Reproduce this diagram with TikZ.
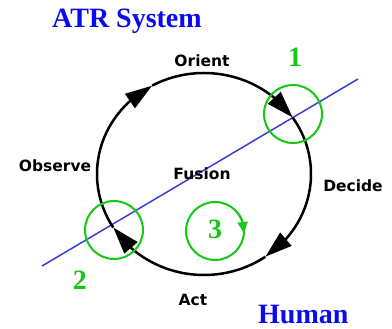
\documentclass[tikz,border=0pt]{standalone}
\usepackage{fontspec}
\setmainfont{Liberation Serif}
\newfontfamily\lblfont{DejaVu Sans}
\usetikzlibrary{arrows.meta,bending}
\definecolor{gr}{RGB}{20,200,20}
\definecolor{bl}{RGB}{60,60,215}
\definecolor{tb}{RGB}{10,10,240}
\tikzset{
  loop/.style={line width=2.5pt,black},
  bigtip/.style={-{Triangle[length=27pt,width=17pt]}},
  ring/.style={line width=2pt,gr},
  lbl/.style={font=\lblfont\bfseries\fontsize{15.5}{18}\selectfont,inner sep=0pt},
  num/.style={font=\bfseries\fontsize{28}{30}\selectfont,text=gr,inner sep=0pt},
  title/.style={font=\bfseries\fontsize{28}{30}\selectfont,text=tb,inner sep=0pt}
}
\begin{document}
\begin{tikzpicture}[x=1pt,y=1pt]
\useasboundingbox (0,0) rectangle (392,-329);
\coordinate (c) at (204,-174);
% blue line
\coordinate (b1) at (42,-266);
\coordinate (b2) at (358,-79);
\draw[bl,line width=1.5pt] (b1) -- (b2);
% loop arcs
\draw[loop,bigtip] (c) ++(212:107pt and 101pt) arc[start angle=212,end angle=119,x radius=107pt,y radius=101pt];
\draw[loop,bigtip] (c) ++(119:107pt and 101pt) arc[start angle=119,end angle=34,x radius=107pt,y radius=101pt];
\draw[loop,bigtip] (c) ++(34:107pt and 101pt) arc[start angle=34,end angle=-55,x radius=107pt,y radius=101pt];
\draw[loop,bigtip] (c) ++(-55:107pt and 101pt) arc[start angle=-55,end angle=-148,x radius=107pt,y radius=101pt];
% green rings
\coordinate (g1) at (293,-114);
\coordinate (g2) at (114,-230);
\coordinate (g3) at (215,-231);
\draw[ring] (g1) circle (29pt);
\draw[ring] (g2) circle (29pt);
\draw[ring] (g3) circle (29pt);
\draw[ring,-{Triangle[length=11pt,width=10pt]}] (g3) ++(40:29pt) arc[start angle=40,end angle=-4,radius=29pt];
% labels
\node[lbl] (orient) at (202,-61) {Orient};
\node[lbl] (observe) at (55,-166) {Observe};
\node[lbl] (fusion) at (202,-174) {Fusion};
\node[lbl] (decide) at (353,-186) {Decide};
\node[lbl] (act) at (193,-300) {Act};
\node[num] (n1) at (295,-57) {1};
\node[num] (n2) at (80,-280) {2};
\node[num] (n3) at (215,-229) {3};
\node[title,anchor=base west] (atr) at (52,-27.5) {ATR System};
\node[title,anchor=base west] (human) at (258,-324) {Human};
\end{tikzpicture}
\end{document}
